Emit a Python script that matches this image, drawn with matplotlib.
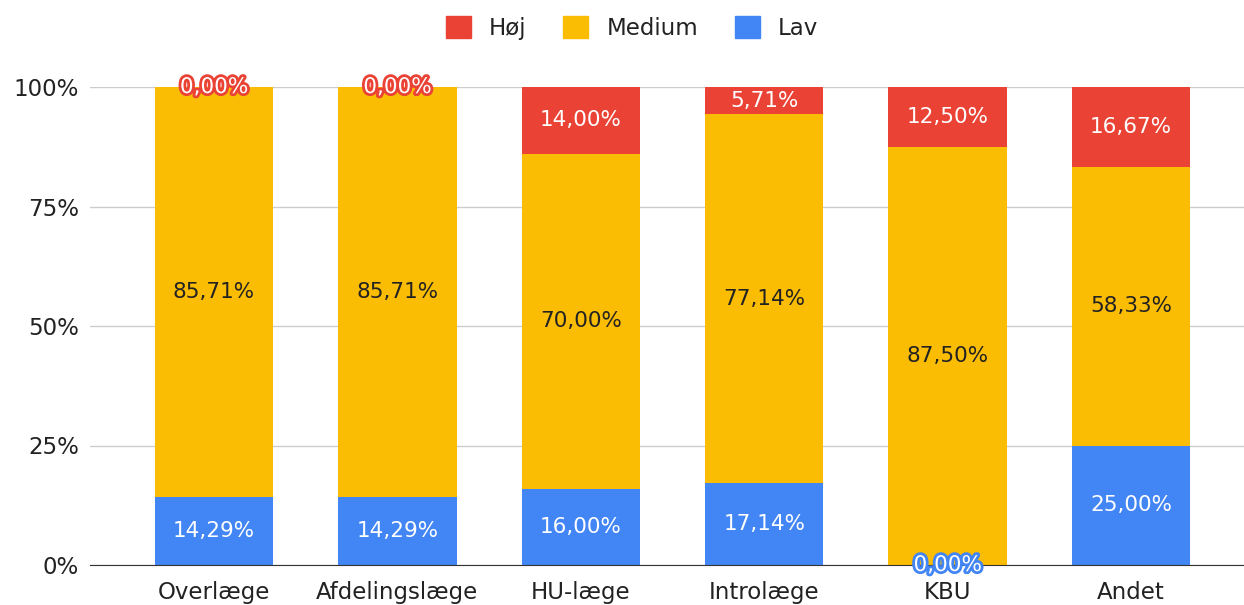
import matplotlib.pyplot as plt
import matplotlib.patheffects as pe
from matplotlib.patches import Patch
import numpy as np

categories = ['Overlæge', 'Afdelingslæge', 'HU-læge', 'Introlæge', 'KBU', 'Andet']
lav = [14.29, 14.29, 16.00, 17.14, 0.00, 25.00]
medium = [85.71, 85.71, 70.00, 77.14, 87.50, 58.33]
hoj = [0.00, 0.00, 14.00, 5.71, 12.50, 16.67]
y_ticks = [0, 25, 50, 75, 100]
y_tick_labels = ['0%', '25%', '50%', '75%', '100%']

RED = '#EA4335'
YELLOW = '#FBBC04'
BLUE = '#4285F4'

plt.rcParams['font.family'] = ['DejaVu Sans']


def fmt(v):
    return f'{v:.2f}'.replace('.', ',') + '%'


fig = plt.figure(figsize=(12.44, 6.05), dpi=100)
ax = fig.add_axes([90 / 1244, 1 - 565 / 605, 1 - 90 / 1244, (565 - 87) / 605])

x = np.arange(len(categories))
w = 0.645
lav_a = np.array(lav)
med_a = np.array(medium)
hoj_a = np.array(hoj)

ax.bar(x, lav_a, w, color=BLUE, zorder=2)
ax.bar(x, med_a, w, bottom=lav_a, color=YELLOW, zorder=2)
ax.bar(x, hoj_a, w, bottom=lav_a + med_a, color=RED, zorder=2)

fs = 15.5
for i in range(len(categories)):
    # Lav
    if lav_a[i] > 0:
        ax.text(x[i], lav_a[i] / 2, fmt(lav_a[i]), ha='center', va='center',
                color='white', fontsize=fs, zorder=3)
    else:
        ax.text(x[i], 0, fmt(lav_a[i]), ha='center', va='center', color='white',
                fontsize=fs, zorder=4,
                path_effects=[pe.withStroke(linewidth=4, foreground=BLUE)])
    # Medium
    ax.text(x[i], lav_a[i] + med_a[i] / 2, fmt(med_a[i]), ha='center', va='center',
            color='#222222', fontsize=fs, zorder=3)
    # Høj
    top = lav_a[i] + med_a[i]
    if hoj_a[i] > 0:
        ax.text(x[i], top + hoj_a[i] / 2, fmt(hoj_a[i]), ha='center', va='center',
                color='white', fontsize=fs, zorder=3)
    else:
        ax.text(x[i], top, fmt(hoj_a[i]), ha='center', va='center', color='white',
                fontsize=fs, zorder=4,
                path_effects=[pe.withStroke(linewidth=4, foreground=RED)])

ax.set_xlim(-0.676, 5.616)
ax.set_ylim(0, 100)
ax.set_xticks(x)
ax.set_xticklabels(categories, fontsize=16.5, color='#222222')
ax.set_yticks(y_ticks)
ax.set_yticklabels(y_tick_labels, fontsize=16.5, color='#222222')
ax.tick_params(axis='both', length=0)
ax.tick_params(axis='x', pad=11.5)
ax.tick_params(axis='y', pad=8)
ax.grid(axis='y', color='#cccccc', linewidth=1, zorder=0)
for s in ['top', 'right', 'left']:
    ax.spines[s].set_visible(False)
ax.spines['bottom'].set_color('#333333')
ax.spines['bottom'].set_zorder(3)

handles = [Patch(color=RED, label='Høj'), Patch(color=YELLOW, label='Medium'),
           Patch(color=BLUE, label='Lav')]
fig.legend(handles=handles, loc='center', bbox_to_anchor=(632 / 1244, 1 - 28 / 605), ncol=3,
           frameon=False, fontsize=16.5, handlelength=1.09, handleheight=1.13,
           columnspacing=1.6, handletextpad=0.79, labelcolor='#222222')

fig.savefig('out.png', dpi=100)
